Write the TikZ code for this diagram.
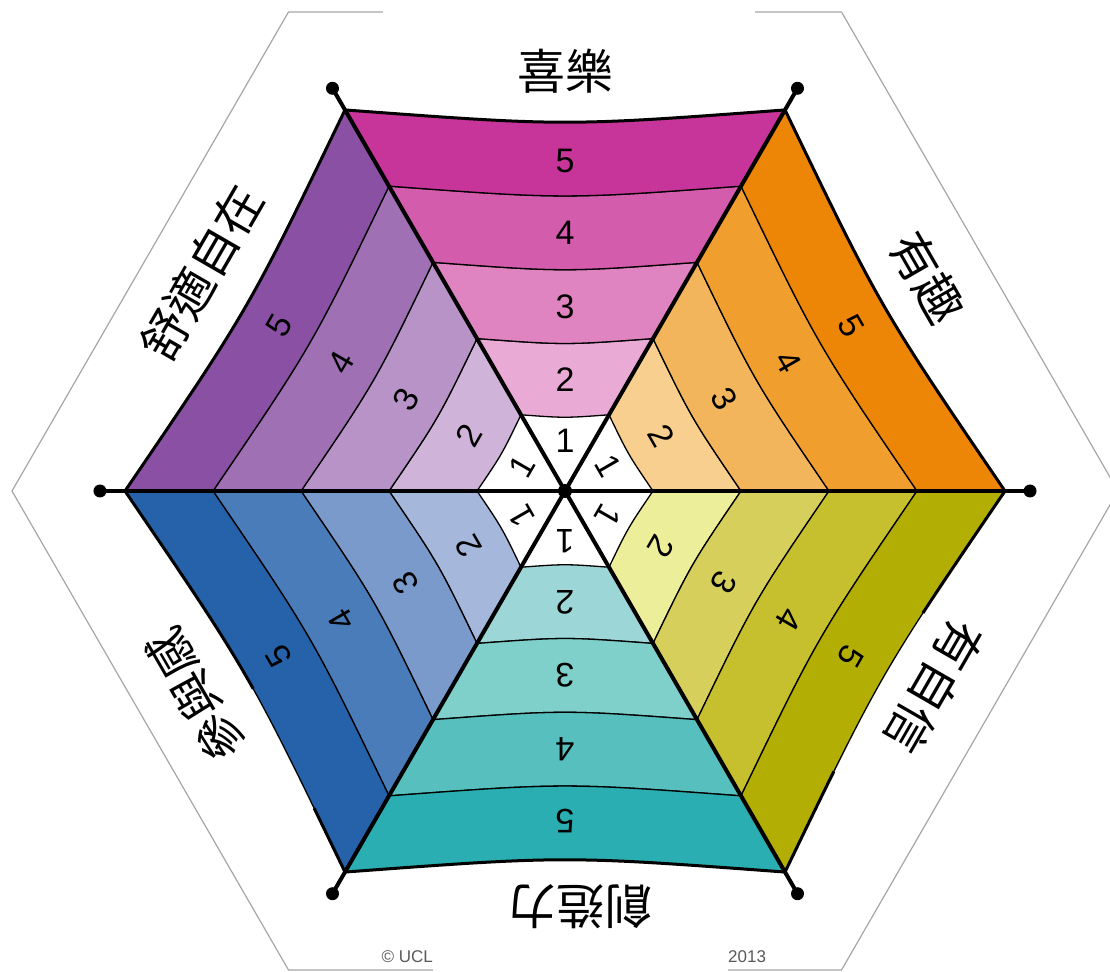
\documentclass[tikz,border=0pt]{standalone}
\usepackage{fontspec}
\setmainfont{Liberation Sans}
\newfontfamily\cjk{Noto Sans CJK TC}
\usepackage{xcolor}
\usepackage{tikz}
\usetikzlibrary{positioning}
% band colours, outer band = 5
\definecolor{joy5}{HTML}{C8359A}\definecolor{joy4}{HTML}{D45CAD}
\definecolor{joy3}{HTML}{DF84C1}\definecolor{joy2}{HTML}{EAAAD6}
\definecolor{fun5}{HTML}{ED8506}\definecolor{fun4}{HTML}{F09E2E}
\definecolor{fun3}{HTML}{F3B55C}\definecolor{fun2}{HTML}{F8CF8E}
\definecolor{conf5}{HTML}{B3AE03}\definecolor{conf4}{HTML}{C6BF2E}
\definecolor{conf3}{HTML}{D6CF5C}\definecolor{conf2}{HTML}{EDEE99}
\definecolor{creat5}{HTML}{2BAEB1}\definecolor{creat4}{HTML}{57C0BE}
\definecolor{creat3}{HTML}{7FD0CA}\definecolor{creat2}{HTML}{9CD6D7}
\definecolor{part5}{HTML}{2562AA}\definecolor{part4}{HTML}{4B7CBA}
\definecolor{part3}{HTML}{7A9ACB}\definecolor{part2}{HTML}{A5B8DB}
\definecolor{ease5}{HTML}{8A50A4}\definecolor{ease4}{HTML}{A070B5}
\definecolor{ease3}{HTML}{B893C7}\definecolor{ease2}{HTML}{CFB3D9}

\begin{document}
\begin{tikzpicture}[x=1pt, y=1pt,
  band/.style={draw=black, line width=1.3pt},
  rim/.style={line width=3pt},
  spoke/.style={line width=4pt},
  num/.style={font=\fontsize{34}{34}\selectfont, inner sep=0pt},
  title/.style={font=\cjk\fontsize{48}{48}\selectfont, inner sep=0pt},
  copy/.style={font=\fontsize{17}{17}\selectfont, text=black!65, inner sep=0pt}]
  \useasboundingbox (-565,-480) rectangle (545,491);

  % Grey outer hexagon (broken where the labels were pasted)
  \draw[black!35, line width=1.2pt] (-182,479) -- (-276.5,479) -- (-553,0)
    -- (-276.5,-479) -- (-132,-479);
  \draw[black!35, line width=1.2pt] (190,479) -- (276.5,479) -- (553,0)
    -- (276.5,-479) -- (163,-479);

  % Six sectors, bands 2..5 (band 1 stays white)
  \foreach \t/\c in {90/joy,30/fun,-30/conf,-90/creat,-150/part,150/ease}{
    \foreach \k [evaluate=\k as \rin using 88*(\k-1),
                 evaluate=\k as \rout using 88*\k] in {2,...,5}
      \filldraw[band, fill=\c\k] (\t+30:\rin) -- (\t+30:\rout)
        .. controls (\t:{0.829*\rout}) .. (\t-30:\rout) -- (\t-30:\rin)
        .. controls (\t:{0.829*\rin}) .. cycle;
    \foreach \k/\d in {1/50,2/111,3/184,4/258,5/330}
      \node[num, rotate=\t-90] (\c-n\k) at (\t:\d) {\k};
  }

  % Outer rims
  \foreach \t in {90,30,-90,150}
    \draw[rim] (\t+30:440) .. controls (\t:364.7) .. (\t-30:440);
  \draw[rim, dash pattern=on 147pt off 182pt on 300pt]
    (0:440) .. controls (-30:364.7) .. (-60:440);
  \draw[rim, dash pattern=on 71pt off 134pt on 300pt]
    (-120:440) .. controls (-150:364.7) .. (-180:440);

  % Spokes with end dots
  \foreach \a in {0,60,...,300}{
    \draw[spoke] (0,0) -- (\a:465);
    \fill (\a:465) circle (6.5);
  }
  \fill (0,0) circle (7);

  % Sector titles
  \node[title] (joy) at (90:420) {喜樂};
  \node[title, rotate=-60] (fun) at (30.5:420) {有趣};
  \node[title, rotate=-120] (conf) at (-28:418) {有自信};
  \node[title, rotate=180] (creat) at (15,-416) {創造力};
  \node[title, rotate=120] (part) at (-151:422) {參與感};
  \node[title, rotate=60] (ease) at (149:424) {舒適自在};

  % Copyright line (middle covered)
  \node[copy, anchor=east] (ucl) at (-132,-466) {© UCL};
  \node[copy, anchor=west] (year) at (163,-466) {2013};
\end{tikzpicture}
\end{document}
